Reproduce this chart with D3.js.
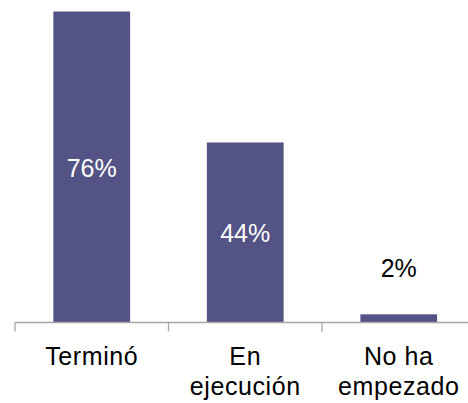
<!DOCTYPE html>
<html>
<head>
<meta charset="utf-8">
<script src="https://cdn.jsdelivr.net/npm/d3@7"></script>
<style>
  html, body { margin: 0; padding: 0; background: #fff; }
  svg { display: block; }
  text { font-family: "Liberation Sans", Arial, sans-serif; }
</style>
</head>
<body>
<svg id="chart" width="468" height="403"></svg>
<script>
const categories = ["Terminó", "En ejecución", "No ha empezado"];
const categoryLines = [["Terminó"], ["En", "ejecución"], ["No ha", "empezado"]];
const values = [76, 44, 2];
const valueLabels = ["76%", "44%", "2%"];

const svg = d3.select("#chart");
const W = 468, H = 403;
const baseY = 322.5;

const x = d3.scaleBand().domain(categories).range([15, 475.5]).paddingInner(0.5).paddingOuter(0.25);
const y = d3.scaleLinear().domain([0, 76]).range([baseY, 11.5]);

const barColor = "#535386";

// bars
svg.selectAll("rect.bar").data(values).join("rect")
  .attr("class", "bar")
  .attr("x", (d, i) => x(categories[i]))
  .attr("width", x.bandwidth())
  .attr("y", d => y(d))
  .attr("height", d => baseY - y(d))
  .attr("fill", barColor);

// axis line and ticks
const step = x.step();
const bounds = d3.range(categories.length + 1).map(i => 15 + i * step);
svg.append("line")
  .attr("x1", 15).attr("x2", W)
  .attr("y1", baseY).attr("y2", baseY)
  .attr("stroke", "#a6a6a6").attr("stroke-width", 1.3);
svg.selectAll("line.tick").data(bounds).join("line")
  .attr("class", "tick")
  .attr("x1", d => d).attr("x2", d => d)
  .attr("y1", baseY).attr("y2", baseY + 9)
  .attr("stroke", "#a6a6a6").attr("stroke-width", 1.3);

// value labels
svg.selectAll("text.val").data(values).join("text")
  .attr("class", "val")
  .attr("x", (d, i) => x(categories[i]) + x.bandwidth() / 2)
  .attr("y", d => (baseY - y(d)) > 60 ? (y(d) + baseY) / 2 + 9.5 : y(d) - 37)
  .attr("text-anchor", "middle")
  .attr("font-size", 25)
  .attr("fill", d => (baseY - y(d)) > 60 ? "#ffffff" : "#000000")
  .text((d, i) => valueLabels[i]);

// category labels
categoryLines.forEach((lines, i) => {
  const cx = x(categories[i]) + x.bandwidth() / 2;
  lines.forEach((ln, j) => {
    svg.append("text")
      .attr("x", cx)
      .attr("y", 365 + j * 30)
      .attr("text-anchor", "middle")
      .attr("font-size", 25)
      .attr("letter-spacing", 0.6)
      .attr("fill", "#000")
      .text(ln);
  });
});
</script>
</body>
</html>
